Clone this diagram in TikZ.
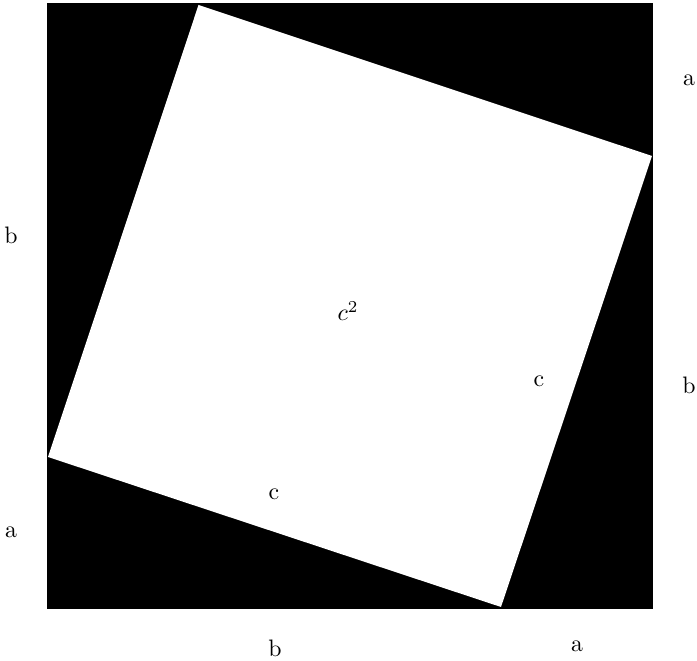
\documentclass[tikz,border=0pt]{standalone}
\usepackage{tikz}

\begin{document}
\begin{tikzpicture}[x=0.42pt,y=0.42pt]
\useasboundingbox (0,0) rectangle (697,661);
% outer square and the tilted one
\fill[black] (47,52) rectangle (653,658);
\fill[white] (198.5,656) -- (652,505) -- (501,54) -- (48,204) -- cycle;
\node (a1) at (689,581) {a};
\node (b1) at (689,276) {b};
\node (b2) at (11,426) {b};
\node (a2) at (11,129) {a};
\node (b3) at (275,13) {b};
\node (a3) at (577,15) {a};
\node (c1) at (539,280) {c};
\node (c2) at (274,167) {c};
\node (csq) at (348,350) {$c^2$};
\end{tikzpicture}
\end{document}
